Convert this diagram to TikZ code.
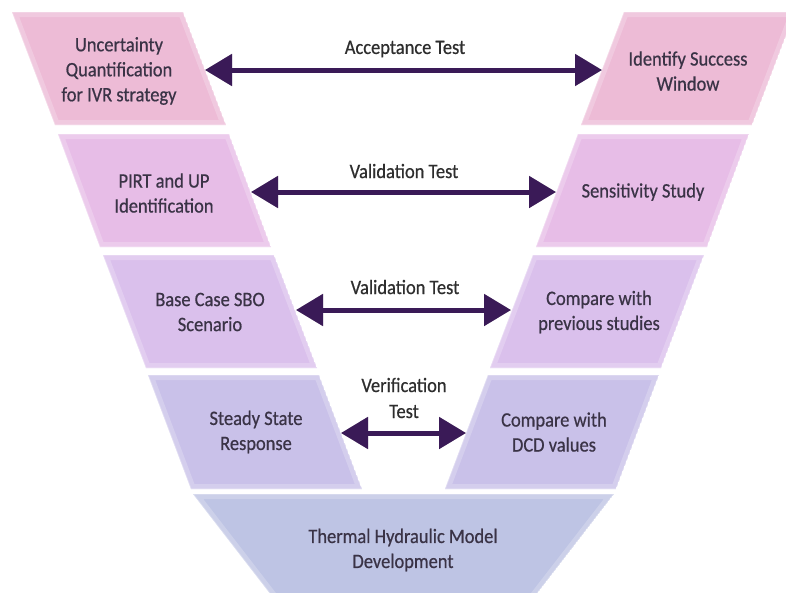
\documentclass[tikz,border=0pt]{standalone}
\usepackage{fontspec}
\setmainfont[FakeStretch=0.9, FakeBold=0.6]{Carlito}
\usetikzlibrary{arrows.meta}

\definecolor{bandA}{HTML}{EDBBD6}
\definecolor{bandB}{HTML}{E7BDE7}
\definecolor{bandC}{HTML}{DAC0EC}
\definecolor{bandD}{HTML}{C9C1E9}
\definecolor{bandE}{HTML}{BEC4E4}
\definecolor{inkc}{HTML}{3A3346}
\definecolor{arrowc}{HTML}{3A1A57}

% filled band with a soft bevelled rim
\newcommand\vband[2]{%
  \begin{scope}
    \clip #2 -- cycle;
    \fill[#1] #2 -- cycle;
    \draw[white, opacity=0.22, line width=10pt] #2 -- cycle;
    \draw[white, opacity=0.30, line width=1.2pt] #2 -- cycle;
  \end{scope}}

\tikzset{
  txt/.style={font=\fontsize{20.5}{25}\selectfont, text=inkc, align=center, inner sep=0pt},
  lbl/.style={font=\fontsize{20.5}{26}\selectfont, text=black!82, align=center, inner sep=0pt},
  biarrow/.style={line width=5pt, draw=arrowc,
    {Triangle[length=27pt,width=31pt]}-{Triangle[length=27pt,width=31pt]}},
  biarrowshadow/.style={line width=5pt, draw=black, opacity=0.20,
    {Triangle[length=27pt,width=31pt]}-{Triangle[length=27pt,width=31pt]}}
}

\begin{document}
\begin{tikzpicture}[x=1pt, y=-1pt]
  \useasboundingbox (0,0) rectangle (786,592);
  \clip (0,0) rectangle (786,592);

  % left branch of the V
  \vband{bandA}{(12,12) -- (183,12) -- (226,125) -- (55,125)}
  \vband{bandB}{(58,134) -- (229,134) -- (271,247) -- (100,247)}
  \vband{bandC}{(103,255) -- (274,255) -- (317,368) -- (146,368)}
  \vband{bandD}{(148,375) -- (319,375) -- (362,489) -- (191,489)}
  % right branch of the V
  \vband{bandA}{(795,12) -- (624,12) -- (581,125) -- (752,125)}
  \vband{bandB}{(749,134) -- (578,134) -- (536,247) -- (707,247)}
  \vband{bandC}{(704,255) -- (533,255) -- (490,368) -- (661,368)}
  \vband{bandD}{(659,375) -- (488,375) -- (445,489) -- (616,489)}
  % base of the V
  \vband{bandE}{(193,494) -- (614,494) -- (532,600) -- (275,600)}

  % stage texts
  \node[txt] (uq)   at (119,71)  {Uncertainty\\Quantification\\for IVR strategy};
  \node[txt] (pirt) at (164,193) {PIRT and UP\\Identification};
  \node[txt] (base) at (210,312) {Base Case SBO\\Scenario};
  \node[txt] (ss)   at (256,432) {Steady State\\Response};
  \node[txt] (isw)  at (688,71)  {Identify Success\\Window};
  \node[txt] (sens) at (643,192) {Sensitivity Study};
  \node[txt] (prev) at (599,312) {Compare with\\previous studies};
  \node[txt] (dcd)  at (554,432) {Compare with\\DCD values};
  \node[txt] (thm)  at (403,550) {Thermal Hydraulic Model\\Development};

  % arrow end points on the band edges
  \coordinate (a1l) at (205,70);  \coordinate (a1r) at (602,70);
  \coordinate (a2l) at (251,192); \coordinate (a2r) at (556,192);
  \coordinate (a3l) at (296,310); \coordinate (a3r) at (511,310);
  \coordinate (a4l) at (341,433); \coordinate (a4r) at (466,433);

  % shadows, then the double arrows
  \foreach \p/\q in {a1l/a1r, a2l/a2r, a3l/a3r, a4l/a4r}
    \draw[biarrowshadow, shift={(1.5,3)}] (\p) -- (\q);
  \draw[biarrow] (a1l) -- (a1r);
  \draw[biarrow] (a2l) -- (a2r);
  \draw[biarrow] (a3l) -- (a3r);
  \draw[biarrow] (a4l) -- (a4r);

  % test labels
  \node[lbl] (acc)  at (405,49)  {Acceptance Test};
  \node[lbl] (val1) at (404,171) {Validation Test};
  \node[lbl] (val2) at (405,287) {Validation Test};
  \node[lbl] (ver)  at (404,398) {Verification\\Test};
\end{tikzpicture}
\end{document}
